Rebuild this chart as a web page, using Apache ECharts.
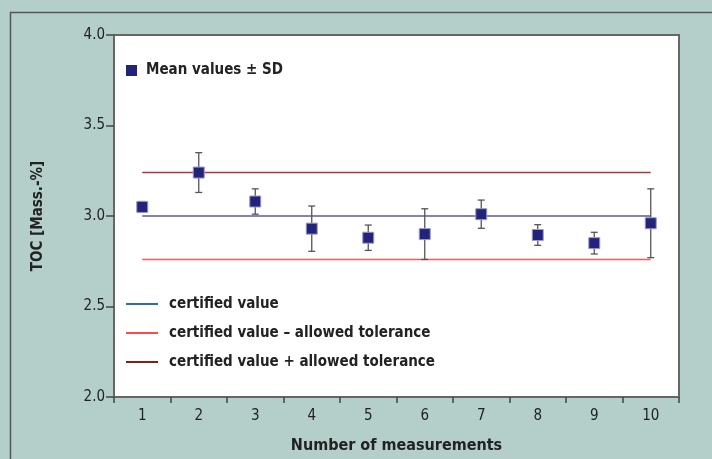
<!DOCTYPE html>
<html><head><meta charset="utf-8">
<script src="https://cdn.jsdelivr.net/npm/echarts@6/dist/echarts.min.js"></script>
<style>html,body{margin:0;padding:0;background:#b4cfca;}#c{width:712px;height:459px;}</style>
</head><body><div id="c"></div>
<script>
const categories = ['1','2','3','4','5','6','7','8','9','10'];
const meanValues = [3.05, 3.24, 3.08, 2.93, 2.88, 2.90, 3.01, 2.895, 2.85, 2.96];
const sdValues = [0.03, 0.11, 0.07, 0.125, 0.07, 0.14, 0.078, 0.057, 0.06, 0.19];
const certifiedValue = 3.0;
const tolerance = 0.24;
const yTicks = [2.0, 2.5, 3.0, 3.5, 4.0];

const FONT = '"DejaVu Sans Condensed", "Liberation Sans Narrow", sans-serif';
const chart = echarts.init(document.getElementById('c'), null, {renderer:'canvas'});

const errData = meanValues.map((m,i)=>[i, m - sdValues[i], m + sdValues[i]]);
const lineEnds = [categories[0], categories[categories.length-1]];

chart.setOption({
  backgroundColor: '#b4cfca',
  animation: false,
  graphic: [{
    type:'rect', z:-1, shape:{x:10.5,y:12.5,width:800,height:600},
    style:{fill:null, stroke:'#555', lineWidth:1.5}
  }],
  grid: {left:114, top:35, right:33, bottom:62, show:true, backgroundColor:'#fff', borderColor:'#666', borderWidth:2},
  legend: [{
    left:126, top:63, padding:0, itemWidth:11, itemHeight:11,
    data:[{name:'Mean values ± SD', icon:'rect', itemStyle:{color:'#23237a', borderWidth:0}}],
    textStyle:{fontFamily:FONT, fontWeight:'bold', fontSize:15, color:'#222', padding:[0,0,0,4]},
    selectedMode:false
  },{
    left:126, top:295, padding:0, orient:'vertical', itemWidth:32, itemHeight:2, itemGap:11,
    icon:'rect',
    data:[
      {name:'certified value', itemStyle:{color:'#2e6db4'}},
      {name:'certified value – allowed tolerance', itemStyle:{color:'#ff4a4a'}},
      {name:'certified value + allowed tolerance', itemStyle:{color:'#8b1c1c'}}
    ],
    textStyle:{fontFamily:FONT, fontWeight:'bold', fontSize:15, color:'#222', lineHeight:18, padding:[0,0,0,6]},
    selectedMode:false
  }],
  xAxis: {
    type:'category', data:categories, boundaryGap:true,
    name:'Number of measurements', nameLocation:'middle', nameGap:41,
    nameTextStyle:{fontFamily:FONT, fontWeight:'bold', fontSize:16, color:'#222'},
    axisLine:{lineStyle:{color:'#666', width:2}},
    axisTick:{show:true, length:6, alignWithLabel:false, lineStyle:{color:'#444', width:1.5}},
    axisLabel:{fontFamily:FONT, fontSize:15, color:'#222', margin:12},
    splitLine:{show:false}
  },
  yAxis: {
    type:'value', min:yTicks[0], max:yTicks[yTicks.length-1], interval:0.5,
    name:'TOC [Mass.-%]', nameLocation:'middle', nameGap:68, nameRotate:90,
    nameTextStyle:{fontFamily:FONT, fontWeight:'bold', fontSize:15, color:'#222'},
    axisLine:{show:true, lineStyle:{color:'#666', width:2}},
    axisTick:{show:true, length:8, lineStyle:{color:'#444', width:1.5}},
    axisLabel:{fontFamily:FONT, fontSize:15, color:'#222', margin:9, formatter:v=>v.toFixed(1)},
    splitLine:{show:false}
  },
  series: [
    {name:'certified value', type:'line', symbol:'none', z:2,
     lineStyle:{color:'#5a5aa0', width:1.5}, itemStyle:{color:'#5a5aa0'},
     data:lineEnds.map(c=>[c, certifiedValue])},
    {name:'certified value – allowed tolerance', type:'line', symbol:'none', z:2,
     lineStyle:{color:'#ff5a5a', width:1.5}, itemStyle:{color:'#ff5a5a'},
     data:lineEnds.map(c=>[c, certifiedValue - tolerance])},
    {name:'certified value + allowed tolerance', type:'line', symbol:'none', z:2,
     lineStyle:{color:'#a83a3a', width:1.5}, itemStyle:{color:'#a83a3a'},
     data:lineEnds.map(c=>[c, certifiedValue + tolerance])},
    {name:'errors', type:'custom', z:3,
     renderItem:function(params, api){
       const x = api.value(0);
       const lo = api.coord([x, api.value(1)]);
       const hi = api.coord([x, api.value(2)]);
       const hw = 3.5;
       const st = {stroke:'#555', lineWidth:1.3};
       return {type:'group', children:[
         {type:'line', shape:{x1:lo[0],y1:lo[1],x2:hi[0],y2:hi[1]}, style:st},
         {type:'line', shape:{x1:lo[0]-hw,y1:lo[1],x2:lo[0]+hw,y2:lo[1]}, style:st},
         {type:'line', shape:{x1:hi[0]-hw,y1:hi[1],x2:hi[0]+hw,y2:hi[1]}, style:st}
       ]};
     },
     encode:{x:0, y:[1,2]},
     data:errData},
    {name:'Mean values ± SD', type:'scatter', symbol:'rect', symbolSize:11, z:4,
     itemStyle:{color:'#23237a', borderColor:'#9a9acc', borderWidth:1, opacity:1},
     data:meanValues.map((m,i)=>[categories[i], m])}
  ]
});
</script></body></html>
